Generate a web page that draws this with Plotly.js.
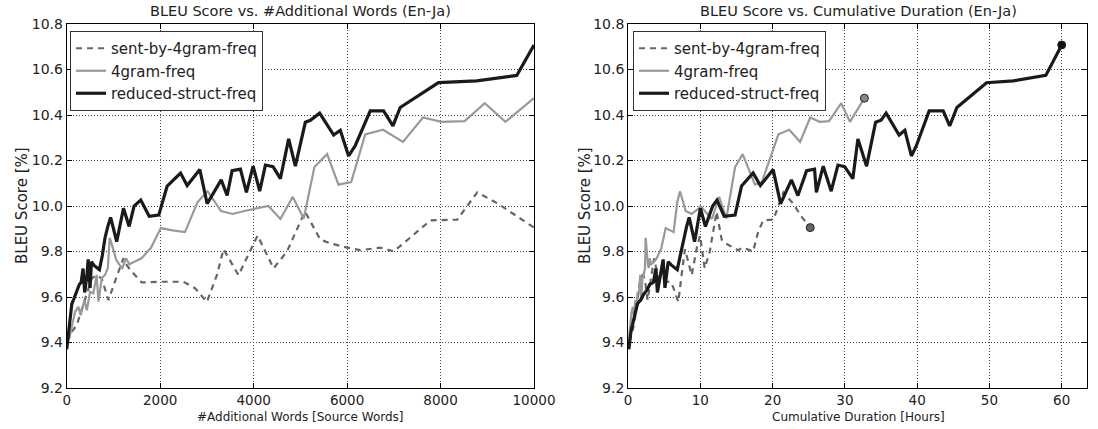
<!DOCTYPE html>
<html>
<head>
<meta charset="utf-8">
<script src="https://cdn.plot.ly/plotly-3.0.1.min.js"></script>
<style>
html,body{margin:0;padding:0;background:#fff;}
#chart{width:1098px;height:429px;}
</style>
</head>
<body>
<div id="chart"></div>
<script>
// series names
const seriesNames = ["sent-by-4gram-freq", "4gram-freq", "reduced-struct-freq"];

// reduced-struct-freq
const wordsRS = [0,40,80,110,150,190,230,270,310,350,385,430,460,500,530,580,640,700,760,820,880,940,1070,1215,1336,1442,1585,1765,1970,2150,2436,2578,2849,3006,3306,3433,3540,3718,3846,3989,4131,4252,4416,4573,4750,4893,5107,5214,5413,5713,5855,6033,6176,6496,6781,6981,7137,7956,8775,9630,10000];
const hoursRS = [0.1,0.4,1.0,1.3,1.8,2.1,2.6,3.0,3.5,3.85,4.05,4.4,4.85,5.1,5.55,6.0,6.4,6.8,7.2,7.7,8.1,8.45,9.2,10.0,10.7,11.7,12.3,13.3,14.8,15.7,17.3,18.3,20.07,21.1,22.6,23.5,24.7,25.8,26.05,27.0,28.1,29.04,29.96,31.1,31.8,33.0,34.25,35.0,35.7,37.5,38.3,39.2,39.9,41.66,43.6,44.5,45.5,49.6,53.3,57.8,60.0];
const bleuRS = [9.37,9.45,9.53,9.57,9.59,9.61,9.63,9.655,9.665,9.725,9.62,9.69,9.765,9.64,9.755,9.74,9.73,9.72,9.78,9.86,9.91,9.95,9.843,9.99,9.91,10.0,10.026,9.955,9.96,10.088,10.145,10.09,10.16,10.01,10.115,10.046,10.155,10.162,10.06,10.175,10.065,10.18,10.173,10.12,10.295,10.175,10.368,10.377,10.408,10.312,10.333,10.22,10.266,10.418,10.418,10.352,10.433,10.542,10.55,10.574,10.708];

// 4gram-freq
const words4G = [0,60,100,180,250,300,380,430,500,570,640,680,750,820,880,920,990,1060,1130,1190,1270,1340,1450,1600,1800,2015,2265,2530,2801,3016,3301,3552,3801,4088,4316,4573,4838,5073,5301,5573,5816,6088,6388,6767,7196,7625,8017,8517,8946,9389,10000];
const hours4G = [0.05,0.16,0.26,0.48,0.66,0.79,1.0,1.14,1.32,1.5,1.69,1.8,1.98,2.17,2.33,2.43,2.55,2.65,2.75,2.85,3.0,3.2,3.6,3.95,4.6,5.2,5.8,6.3,6.8,7.18,7.97,8.8,9.3,9.8,10.0,11.6,12.6,13.6,14.8,15.85,17.55,18.5,20.8,22.3,23.8,25.2,26.5,27.8,29.5,30.7,32.7];
const bleu4G = [9.40,9.42,9.46,9.535,9.557,9.52,9.586,9.542,9.623,9.616,9.697,9.58,9.682,9.697,9.727,9.86,9.815,9.763,9.741,9.727,9.77,9.744,9.755,9.77,9.815,9.903,9.893,9.885,10.017,10.065,9.978,9.965,9.978,9.99,10.0,9.943,10.04,9.945,10.171,10.228,10.094,10.105,10.315,10.335,10.282,10.389,10.37,10.373,10.452,10.37,10.474];

// sent-by-4gram-freq
const wordsS = [13,107,214,321,429,536,643,750,893,1000,1107,1214,1285,1393,1607,2000,2499,2749,3000,3214,3356,3677,3964,4084,4427,4714,5000,5100,5428,5642,6000,6285,6713,6999,7499,7785,8357,8785,9214,9642,10000];
const hoursS = [0.2,0.5,0.8,1.1,1.4,1.7,2.0,2.3,2.7,3.0,3.3,3.6,3.8,4.0,4.4,5.0,5.9,6.3,6.95,7.4,7.87,8.8,9.5,9.95,10.6,11.3,12.0,12.25,12.95,13.5,14.55,15.2,15.9,17.3,18.0,18.7,20.1,21.5,22.8,24.0,25.2];
const bleuS = [9.403,9.447,9.476,9.542,9.608,9.682,9.696,9.682,9.586,9.652,9.711,9.77,9.74,9.711,9.664,9.667,9.667,9.638,9.578,9.696,9.81,9.696,9.814,9.87,9.726,9.8,9.931,9.975,9.852,9.836,9.817,9.806,9.817,9.8,9.887,9.937,9.94,10.06,10.012,9.953,9.905];

const yTicks = [9.2,9.4,9.6,9.8,10.0,10.2,10.4,10.6,10.8];
const xTicksWords = [0,2000,4000,6000,8000,10000];
const xTickTextWords = ["0","2000","4000","6000","8000","10000"];
const xTicksHours = [0,10,20,30,40,50,60];

const FONT = '"DejaVu Sans", sans-serif';
const TXT = '#222';
const styles = [
  {color:'#666666', width:2.2, dash:'6px,5px'},
  {color:'#999999', width:2.2, dash:'solid'},
  {color:'#1a1a1a', width:3.2, dash:'solid'}
];
const markerFill = ['#666666', '#888888', '#111111'];

const leftX = [wordsS, words4G, wordsRS];
const rightX = [hoursS, hours4G, hoursRS];
const ys = [bleuS, bleu4G, bleuRS];

const traces = [];
for (let i = 0; i < 3; i++) {
  traces.push({
    type:'scatter', mode:'lines', name:seriesNames[i],
    x:leftX[i], y:ys[i], xaxis:'x', yaxis:'y',
    line:styles[i], legend:'legend'
  });
}
for (let i = 0; i < 3; i++) {
  traces.push({
    type:'scatter', mode:'lines', name:seriesNames[i],
    x:rightX[i], y:ys[i], xaxis:'x2', yaxis:'y2',
    line:styles[i], legend:'legend2'
  });
}
for (let i = 0; i < 3; i++) {
  traces.push({
    type:'scatter', mode:'markers', showlegend:false,
    x:[rightX[i][rightX[i].length-1]], y:[ys[i][ys[i].length-1]],
    xaxis:'x2', yaxis:'y2',
    marker:{size:8, color:markerFill[i], line:{color:'#222', width:1}}
  });
}

function axisBase(extra) {
  return Object.assign({
    showline:true, mirror:'allticks', linecolor:'#000', linewidth:1,
    ticks:'inside', ticklen:5, tickwidth:1, tickcolor:'#000',
    showgrid:true, gridcolor:'#444', gridwidth:1, griddash:'1px,2px',
    zeroline:false, tickfont:{family:FONT, size:14, color:TXT},
    fixedrange:true
  }, extra);
}

const legendBase = {
  xanchor:'left', yanchor:'top',
  bgcolor:'#fff', bordercolor:'#333', borderwidth:1,
  font:{family:FONT, size:15, color:TXT}, tracegroupgap:0
};

const layout = {
  width:1098, height:429,
  margin:{l:0, r:0, t:24, b:41},
  paper_bgcolor:'#fff', plot_bgcolor:'#fff',
  font:{family:FONT, color:TXT},
  xaxis: axisBase({domain:[66.7/1098, 534/1098], range:[0,10000], tickvals:xTicksWords, ticktext:xTickTextWords, anchor:'y', tickfont:{family:FONT, size:13.5, color:TXT}}),
  yaxis: axisBase({domain:[0,1], range:[9.2,10.8], tickvals:yTicks, tickformat:'.1f', anchor:'x'}),
  xaxis2: axisBase({domain:[628.1/1098, 1087/1098], range:[0,63.5], tickvals:xTicksHours, anchor:'y2', tickfont:{family:FONT, size:13.5, color:TXT}}),
  yaxis2: axisBase({domain:[0,1], range:[9.2,10.8], tickvals:yTicks, tickformat:'.1f', anchor:'x2'}),
  legend: Object.assign({x:70/1098, y:(388-31)/364}, legendBase),
  legend2: Object.assign({x:633/1098, y:(388-31)/364}, legendBase),
  annotations: [
    {text:'BLEU Score vs. #Additional Words (En-Ja)', xref:'paper', yref:'paper', x:300/1098, y:(388-11)/364, xanchor:'center', yanchor:'middle', showarrow:false, font:{family:FONT, size:14.5, color:TXT}},
    {text:'BLEU Score vs. Cumulative Duration (En-Ja)', xref:'paper', yref:'paper', x:858/1098, y:(388-11)/364, xanchor:'center', yanchor:'middle', showarrow:false, font:{family:FONT, size:14.5, color:TXT}},
    {text:'#Additional Words [Source Words]', xref:'paper', yref:'paper', x:300/1098, y:(388-417)/364, xanchor:'center', yanchor:'middle', showarrow:false, font:{family:FONT, size:12, color:TXT}},
    {text:'Cumulative Duration [Hours]', xref:'paper', yref:'paper', x:858/1098, y:(388-417)/364, xanchor:'center', yanchor:'middle', showarrow:false, font:{family:FONT, size:12, color:TXT}},
    {text:'BLEU Score [%]', xref:'paper', yref:'paper', x:22/1098, y:(388-206)/364, xanchor:'center', yanchor:'middle', textangle:-90, showarrow:false, font:{family:FONT, size:15, color:TXT}},
    {text:'BLEU Score [%]', xref:'paper', yref:'paper', x:585/1098, y:(388-206)/364, xanchor:'center', yanchor:'middle', textangle:-90, showarrow:false, font:{family:FONT, size:15, color:TXT}}
  ],
  showlegend:true
};

Plotly.newPlot('chart', traces, layout, {staticPlot:true, displayModeBar:false});
</script>
</body>
</html>
